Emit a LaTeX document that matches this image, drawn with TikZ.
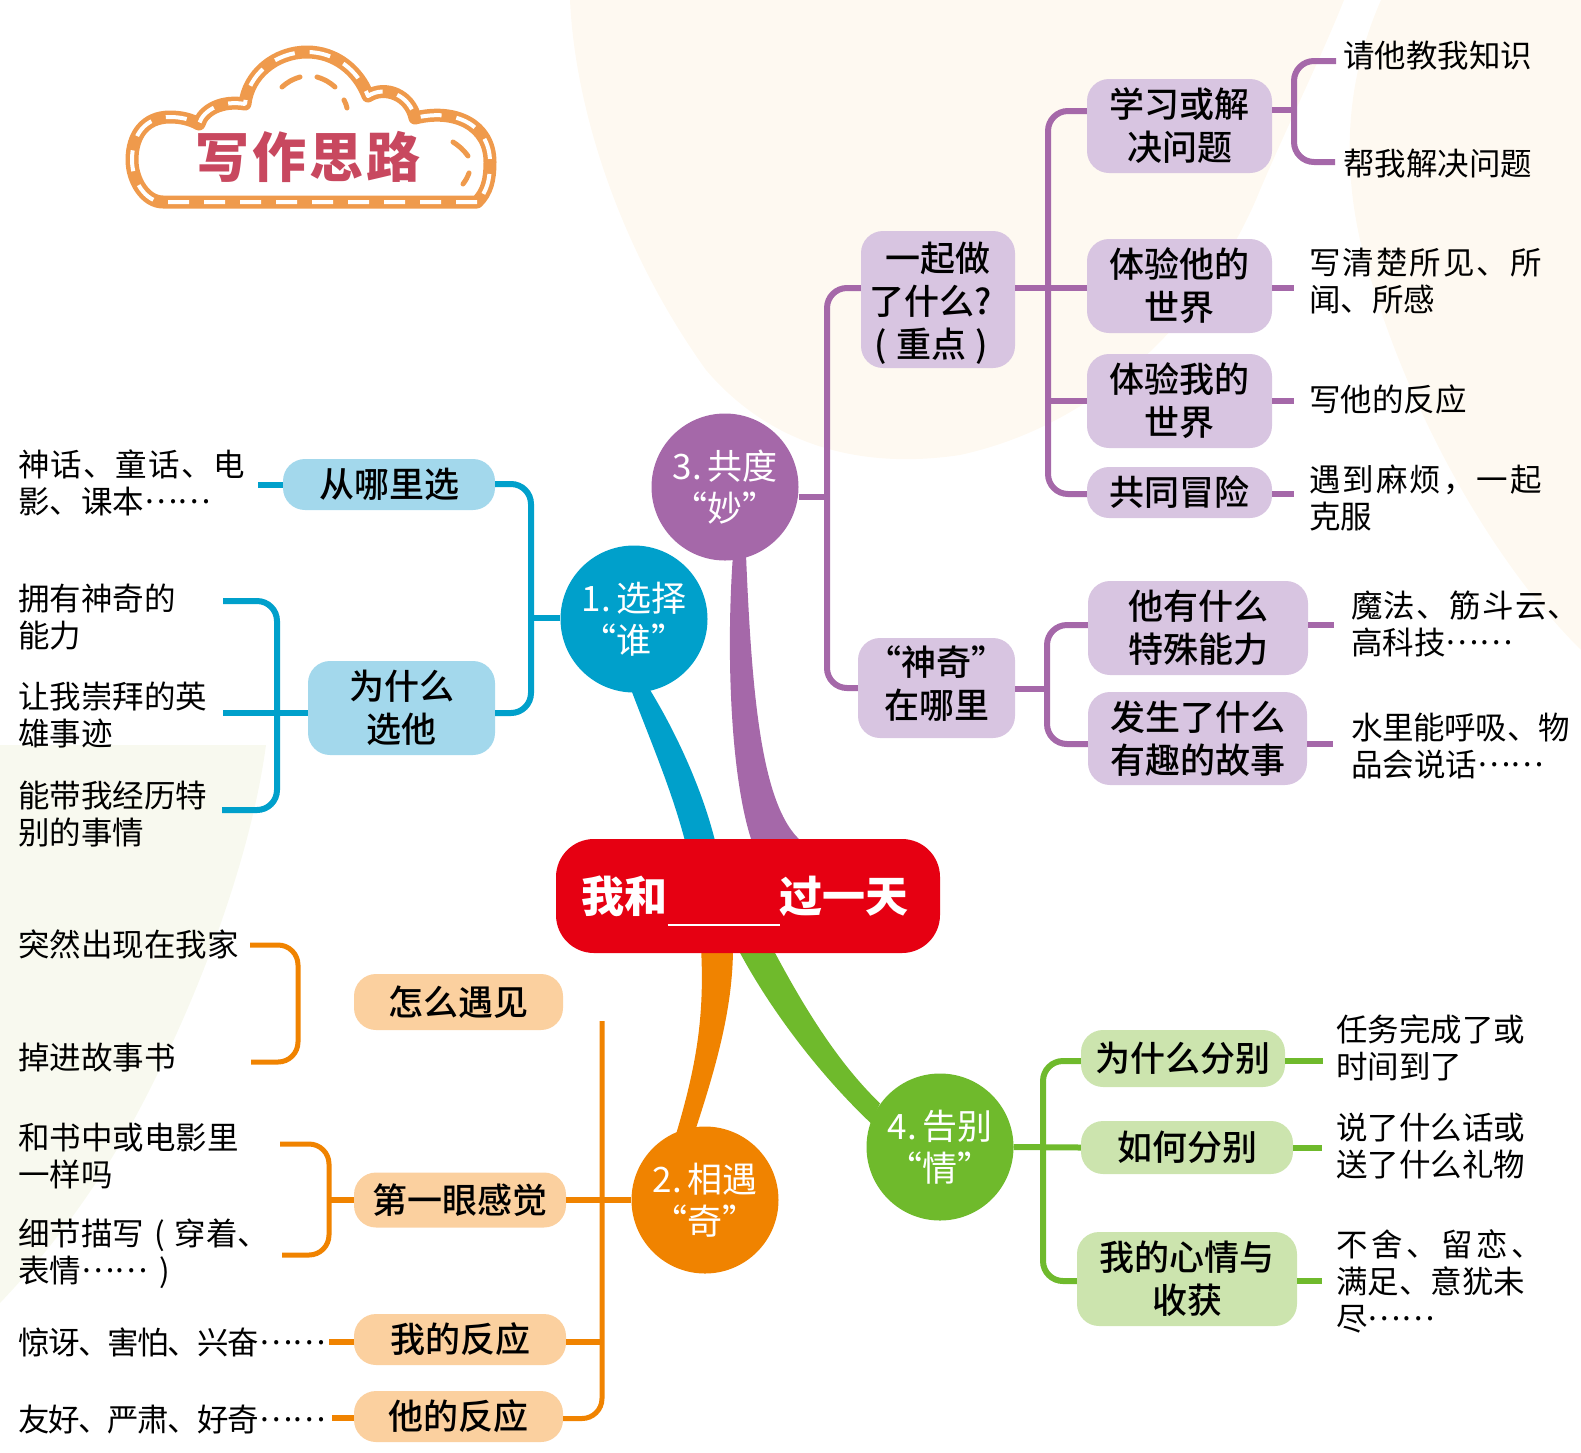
\documentclass[tikz,border=0pt]{standalone}
\usepackage{fontspec}
\setmainfont{Noto Sans CJK SC}
\newfontfamily\boxfont{Noto Sans CJK SC Medium}
\newfontfamily\titlefont[LetterSpace=6]{Noto Sans CJK SC Black}
\usetikzlibrary{backgrounds}
\newcommand{\dotrun}{\raisebox{0.32em}{……}}
\newcommand{\spaced}[2]{{\addfontfeature{LetterSpace=#1}#2}}
\definecolor{peachbg}{HTML}{FEF9F1}
\definecolor{creambg}{HTML}{F8F9EF}
\definecolor{bluemain}{HTML}{00A0CB}
\definecolor{bluelight}{HTML}{A3D8EC}
\definecolor{orangemain}{HTML}{F08300}
\definecolor{orangelight}{HTML}{FBD09F}
\definecolor{purplemain}{HTML}{A568A9}
\definecolor{purplelight}{HTML}{D8C5E1}
\definecolor{greenmain}{HTML}{6FBA2C}
\definecolor{greenlight}{HTML}{CCE4AE}
\definecolor{rootred}{HTML}{E60012}
\definecolor{cloudline}{HTML}{EF9A4C}
\definecolor{cloudtext}{HTML}{C8485F}
\tikzset{
    boxnode/.style={
        rectangle,
        rounded corners=22pt,
        align=center,
        inner sep=0pt,
        font=\boxfont\fontsize{35}{43}\selectfont
    },
    hubnode/.style={
        circle,
        minimum size=147pt,
        inner sep=0pt,
        align=center,
        text=white,
        font=\fontsize{35}{42}\selectfont
    },
    leafnode/.style={
        anchor=west,
        align=left,
        inner sep=0pt,
        font=\fontsize{31.5}{37}\selectfont
    },
    linkline/.style={line width=6pt, rounded corners=20pt}
}

\begin{document}
\begin{tikzpicture}[x=1pt, y=-1pt]
    \useasboundingbox (0,0) rectangle (1581,1452);

    % root and hubs
    \node[
        rectangle,
        rounded corners=38pt,
        fill=rootred,
        text=white,
        minimum width=384pt,
        minimum height=114pt,
        inner sep=0pt,
        font=\bfseries\fontsize{43}{50}\selectfont
    ] (root) at (748,896) {我和\smash{\rule[-14pt]{112pt}{2.5pt}}过一天\rule{6pt}{0pt}};
    \node[hubnode, fill=bluemain] (hubone) at (634,619) {1.\hspace{5pt}选择\\“谁”};
    \node[hubnode, fill=orangemain] (hubtwo) at (705,1200) {2.\hspace{5pt}相遇\\“奇”};
    \node[hubnode, fill=purplemain] (hubthree) at (725,487) {3.\hspace{5pt}共度\\“妙”};
    \node[hubnode, fill=greenmain] (hubfour) at (940,1147) {4.\hspace{5pt}告别\\“情”};

    % branch 1
    \node[boxnode, fill=bluelight, minimum width=212pt, minimum height=51pt] (where) at (389,484.5) {从哪里选};
    \node[boxnode, fill=bluelight, minimum width=187pt, minimum height=94pt] (why) at (401.5,708) {为什么\\选他};
    \node[leafnode] (myth) at (18,483) {\spaced{3.5}{神话、童话、电}\\影、课本\dotrun};
    \node[leafnode] (power) at (18,617) {拥有神奇的\\能力};
    \node[leafnode] (hero) at (18,715) {让我崇拜的英\\雄事迹};
    \node[leafnode] (special) at (18,814) {能带我经历特\\别的事情};

    % branch 2
    \node[boxnode, fill=orangelight, minimum width=209pt, minimum height=56pt] (how) at (458.5,1002) {怎么遇见};
    \node[boxnode, fill=orangelight, minimum width=212pt, minimum height=55pt] (first) at (460,1200) {第一眼感觉};
    \node[boxnode, fill=orangelight, minimum width=212pt, minimum height=51pt] (mine) at (460,1339.5) {我的反应};
    \node[boxnode, fill=orangelight, minimum width=209pt, minimum height=51pt] (his) at (458.5,1416.5) {他的反应};
    \node[leafnode] (appear) at (18,944) {突然出现在我家};
    \node[leafnode] (fall) at (18,1058) {掉进故事书};
    \node[leafnode] (same) at (18,1156) {和书中或电影里\\一样吗};
    \node[leafnode] (detail) at (18,1254) {细节描写\hspace{10pt}(\hspace{10pt}穿着、\\表情\dotrun\hspace{12pt})};
    \node[leafnode] (shock) at (18,1342) {\spaced{-5}{惊讶、害怕、兴奋}\dotrun};
    \node[leafnode] (kind) at (18,1420) {\spaced{-5}{友好、严肃、好奇}\dotrun};

    % branch 3
    \node[boxnode, fill=purplelight, minimum width=154pt, minimum height=137pt] (what) at (938,299.5) {\rule{0pt}{36pt}一起做\\了什么?\rule{14pt}{0pt}\\(\hspace{9pt}重点\hspace{9pt})\rule{14pt}{0pt}};
    \node[boxnode, fill=purplelight, minimum width=157pt, minimum height=100pt] (magic) at (936.5,688) {“神奇”\\在哪里\rule[-12pt]{0pt}{12pt}};
    \node[boxnode, fill=purplelight, minimum width=185pt, minimum height=94pt] (learn) at (1179.5,126) {学习或解\\决问题};
    \node[boxnode, fill=purplelight, minimum width=185pt, minimum height=94pt] (hisworld) at (1179.5,286) {体验他的\\世界};
    \node[boxnode, fill=purplelight, minimum width=185pt, minimum height=94pt] (myworld) at (1179.5,401) {体验我的\\世界};
    \node[boxnode, fill=purplelight, minimum width=185pt, minimum height=51pt] (risk) at (1179.5,492.5) {共同冒险};
    \node[boxnode, fill=purplelight, minimum width=220pt, minimum height=94pt] (ability) at (1198,628) {他有什么\\特殊能力};
    \node[boxnode, fill=purplelight, minimum width=219pt, minimum height=93pt] (story) at (1197.5,738.5) {发生了什么\\有趣的故事};
    \node[leafnode] (teach) at (1343,56) {请他教我知识};
    \node[leafnode] (solve) at (1343,164) {帮我解决问题};
    \node[leafnode] (seen) at (1309,281) {\spaced{6.5}{写清楚所见、所}\\闻、所感};
    \node[leafnode] (react) at (1309,400) {写他的反应};
    \node[leafnode] (trouble) at (1309,498) {\spaced{6.5}{遇到麻烦，一起}\\克服};
    \node[leafnode] (cloudjump) at (1351,624) {\spaced{4}{魔法、筋斗云、}\\高科技\dotrun};
    \node[leafnode] (water) at (1351,746) {\spaced{-1}{水里能呼吸、物}\\品会说话\dotrun};

    % branch 4
    \node[boxnode, fill=greenlight, minimum width=204pt, minimum height=57pt] (part) at (1183,1058.5) {为什么分别};
    \node[boxnode, fill=greenlight, minimum width=212pt, minimum height=53pt] (howpart) at (1187,1147.5) {如何分别};
    \node[boxnode, fill=greenlight, minimum width=220pt, minimum height=94pt] (feel) at (1187,1279) {我的心情与\\收获};
    \node[leafnode] (time) at (1336,1048) {任务完成了或\\时间到了};
    \node[leafnode] (gift) at (1336,1146) {说了什么话或\\送了什么礼物};
    \node[leafnode] (miss) at (1336,1281) {\spaced{11}{不舍、留恋、}\\满足、意犹未\\尽\dotrun};

    % trunk points
    \coordinate (blueout) at (531,618);
    \coordinate (blueinn) at (277,713);
    \coordinate (orangeout) at (602,1200);
    \coordinate (orangeinn) at (329,1200);
    \coordinate (orangetop) at (602,1021);
    \coordinate (meetinn) at (298,1003);
    \coordinate (purpleout) at (827,497);
    \coordinate (purpleinn) at (1048,288);
    \coordinate (purplelearn) at (1294,110);
    \coordinate (purplemagic) at (1047,689);
    \coordinate (greenout) at (1043,1147);

    % ends of the open lines
    \coordinate (mythend) at (258,485);
    \coordinate (powerend) at (223,601);
    \coordinate (heroend) at (223,713);
    \coordinate (specialend) at (222,810);
    \coordinate (appearend) at (250,945);
    \coordinate (fallend) at (251,1062);
    \coordinate (sameend) at (280,1144);
    \coordinate (detailend) at (282,1255);
    \coordinate (shockend) at (329,1342);
    \coordinate (kindend) at (332,1418);
    \coordinate (teachend) at (1336,61);
    \coordinate (solveend) at (1335,162);
    \coordinate (seenend) at (1294,288);
    \coordinate (reactend) at (1294,401);
    \coordinate (troubleend) at (1294,494);
    \coordinate (jumpend) at (1334,625);
    \coordinate (waterend) at (1333,744);
    \coordinate (timeend) at (1323,1061);
    \coordinate (giftend) at (1322,1148);
    \coordinate (missend) at (1322,1281);

    % blue lines
    \draw[linkline, bluemain] ([yshift=0.5pt]where.east) -| (blueout) |- ([yshift=-5pt]why.east);
    \draw[linkline, bluemain] (hubone.west |- blueout) -- (blueout);
    \draw[linkline, bluemain] (where.west |- mythend) -- (mythend);
    \draw[linkline, bluemain] (powerend) -| (blueinn) |- (specialend);
    \draw[linkline, bluemain] (why.west |- heroend) -- (heroend);

    % orange lines
    \draw[linkline, orangemain, line width=5pt] (orangetop) |- ([yshift=-2pt]his.east);
    \draw[linkline, orangemain] (hubtwo.west) -- (first.east);
    \draw[linkline, orangemain] (mine.east |- shockend) -- (orangeout |- shockend);
    \draw[linkline, orangemain, line width=5pt] (sameend) -| (orangeinn) |- (detailend);
    \draw[linkline, orangemain] (first.west) -- (orangeinn);
    \draw[linkline, orangemain, line width=5pt] (appearend) -| (meetinn) |- (fallend);
    \draw[linkline, orangemain] (mine.west |- shockend) -- (shockend);
    \draw[linkline, orangemain] (his.west |- kindend) -- (kindend);

    % purple lines
    \draw[linkline, purplemain] ([yshift=11.5pt]what.west) -| (purpleout) |- (magic.west);
    \draw[linkline, purplemain] (hubthree.east |- purpleout) -- (purpleout);
    \draw[linkline, purplemain] ([yshift=15pt]learn.west) -| (purpleinn) |- ([yshift=-1.5pt]risk.west);
    \draw[linkline, purplemain] (what.east |- purpleinn) -- (hisworld.west |- purpleinn);
    \draw[linkline, purplemain] (purpleinn |- myworld.west) -- (myworld.west);
    \draw[linkline, purplemain] (teachend) -| (purplelearn) |- (solveend);
    \draw[linkline, purplemain] (learn.east |- purplelearn) -- (purplelearn);
    \draw[linkline, purplemain] (hisworld.east |- seenend) -- (seenend);
    \draw[linkline, purplemain] (myworld.east |- reactend) -- (reactend);
    \draw[linkline, purplemain] (risk.east |- troubleend) -- (troubleend);
    \draw[linkline, purplemain] ([yshift=3pt]ability.west) -| (purplemagic) |- ([yshift=-5.5pt]story.west);
    \draw[linkline, purplemain] (magic.east |- purplemagic) -- (purplemagic);
    \draw[linkline, purplemain] (ability.east |- jumpend) -- (jumpend);
    \draw[linkline, purplemain] (story.east |- waterend) -- (waterend);

    % green lines
    \draw[linkline, greenmain] ([yshift=-2.5pt]part.west) -| (greenout) |- ([yshift=-2pt]feel.west);
    \draw[linkline, greenmain] (hubfour.east) -- (howpart.west);
    \draw[linkline, greenmain] (part.east |- timeend) -- (timeend);
    \draw[linkline, greenmain] (howpart.east |- giftend) -- (giftend);
    \draw[linkline, greenmain] (feel.east |- missend) -- (missend);

    % title cloud
    \path[
        draw=cloudline,
        line width=13pt,
        line join=round,
        postaction={draw=white, line width=4pt, dash pattern=on 21pt off 15pt}
    ]
        (477,202) -- (163,202)
        .. controls (145,202) and (132,180) .. (132,160)
        .. controls (132,135) and (145,117) .. (170,117)
        .. controls (180,117) and (190,119) .. (199,124)
        .. controls (203,110) and (222,100) .. (245,104)
        .. controls (248,75) and (275,52) .. (307,52)
        .. controls (335,52) and (358,70) .. (368,96)
        .. controls (385,85) and (410,95) .. (415,118)
        .. controls (455,108) and (490,125) .. (490,162)
        .. controls (490,180) and (487,192) .. cycle;
    \draw[cloudline, line width=5pt, line cap=round] (282,87) to[bend left=12] (300,77);
    \draw[cloudline, line width=5pt, line cap=round] (317,77) to[bend left=12] (335,87);
    \draw[cloudline, line width=5pt, line cap=round] (344,100) to[bend left=8] (347,108);
    \draw[cloudline, line width=5pt, line cap=round] (453,142) to[bend left=10] (468,156);
    \draw[cloudline, line width=5pt, line cap=round] (469,173) to[bend left=8] (463,184);
    \node[text=cloudtext, inner sep=0pt, font=\titlefont\fontsize{54}{60}\selectfont] (title) at (308,157) {写作思路};

    % backdrop and the four thick roots
    \begin{scope}[on background layer]
        \fill[peachbg] (570,0) .. controls (575,110) and (620,250) .. (706,370)
            .. controls (770,445) and (860,470) .. (960,455)
            .. controls (1120,420) and (1220,290) .. (1260,190)
            .. controls (1290,120) and (1320,60) .. (1344,0) -- cycle;
        \fill[peachbg] (1381,0) .. controls (1350,70) and (1340,150) .. (1360,240)
            .. controls (1400,400) and (1490,560) .. (1581,650) -- (1581,0) -- cycle;
        \fill[creambg] (0,745) -- (266,745) .. controls (252,850) and (205,980) .. (153,1083)
            .. controls (110,1170) and (60,1240) .. (0,1303) -- cycle;
        \fill[bluemain] ([shift={(-4pt,6pt)}]hubone.south)
            .. controls (650,740) and (672,790) .. ([shift={(-62pt,-6pt)}]root.north)
            -- ([shift={(-32pt,-6pt)}]root.north)
            .. controls (703,790) and (675,730) .. ([shift={(14pt,6pt)}]hubone.south) -- cycle;
        \fill[purplemain] ([shift={(8pt,6pt)}]hubthree.south)
            .. controls (726,650) and (730,780) .. ([shift={(5pt,-6pt)}]root.north)
            -- ([shift={(58pt,-6pt)}]root.north)
            .. controls (762,815) and (752,700) .. ([shift={(21pt,6pt)}]hubthree.south) -- cycle;
        \fill[orangemain] ([shift={(-47pt,6pt)}]root.south)
            .. controls (705,1020) and (695,1070) .. ([shift={(-29pt,-8pt)}]hubtwo.north)
            -- ([shift={(-11pt,-8pt)}]hubtwo.north)
            .. controls (715,1070) and (733,1010) .. ([shift={(-15pt,6pt)}]root.south) -- cycle;
        \fill[greenmain] ([shift={(-11pt,6pt)}]root.south)
            .. controls (770,1010) and (820,1075) .. ([shift={(-69pt,-50pt)}]hubfour.north)
            -- ([shift={(-60pt,-30pt)}]hubfour.north)
            .. controls (835,1060) and (800,1000) .. ([shift={(24pt,6pt)}]root.south) -- cycle;
    \end{scope}
\end{tikzpicture}
\end{document}
